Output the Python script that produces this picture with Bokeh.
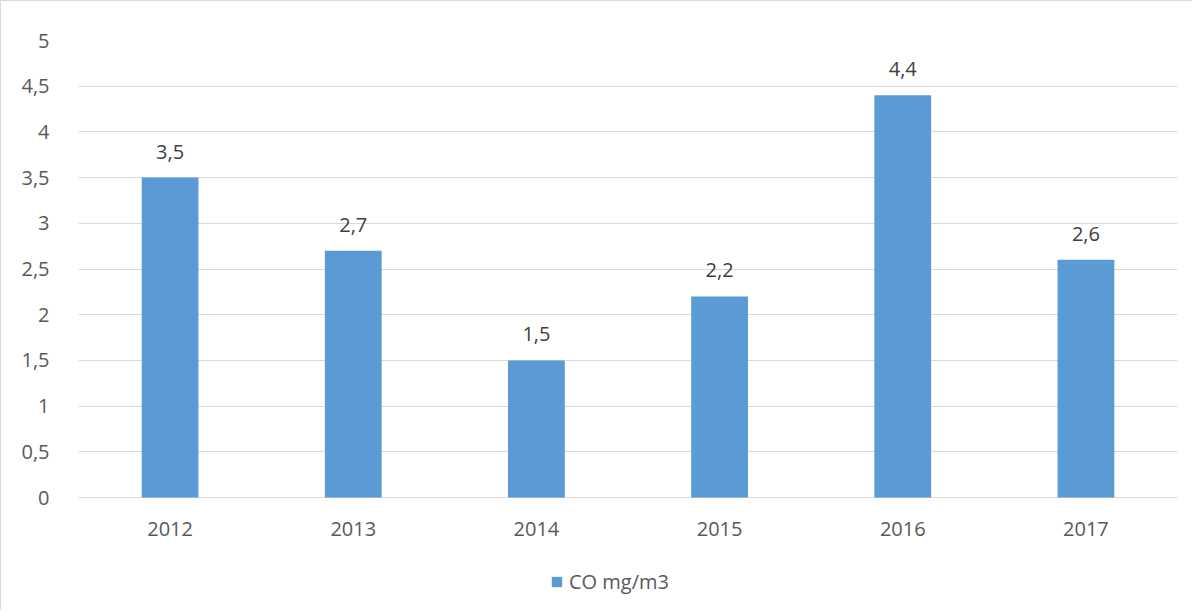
from bokeh.plotting import figure
from bokeh.models import ColumnDataSource, LabelSet, Legend, LegendItem, CustomJSTickFormatter, FixedTicker, Range1d
from bokeh.core.properties import value
from bokeh.embed import file_html
from bokeh.resources import INLINE

years = ["2012", "2013", "2014", "2015", "2016", "2017"]
co_values = [3.5, 2.7, 1.5, 2.2, 4.4, 2.6]
series_name = "CO mg/m3"
y_ticks = [0, 0.5, 1, 1.5, 2, 2.5, 3, 3.5, 4, 4.5, 5]

labels = [f"{v:.1f}".replace(".", ",") for v in co_values]
src = ColumnDataSource(data=dict(x=years, y=co_values, lab=labels, zero=[0] * len(years)))

FONT = "Open Sans"
W, H = 1192, 610
TOP, ZERO_PX = 39, 496  # frame top and zero line (px from figure top)
y_start = -5 * (H - ZERO_PX) / (ZERO_PX - TOP)

p = figure(x_range=years, y_range=Range1d(y_start, 5), width=W, height=H,
           output_backend="svg", toolbar_location=None,
           min_border_left=77, min_border_right=16, min_border_top=TOP, min_border_bottom=0)
p.styles = {"border-left": "1px solid #d9d9d9", "border-top": "1px solid #d9d9d9"}
p.outline_line_color = None
p.x_range.range_padding = 0

bars = p.vbar(x="x", top="y", width=0.31, source=src, fill_color="#5b9bd5", line_color=None)

p.xaxis.visible = False
p.yaxis.ticker = FixedTicker(ticks=y_ticks)
p.yaxis.formatter = CustomJSTickFormatter(code="return tick.toString().replace('.', ',');")
ax = p.yaxis[0]
ax.axis_line_color = None
ax.major_tick_line_color = None
ax.minor_tick_line_color = None
ax.major_label_text_font = FONT
ax.major_label_text_font_size = "20px"
ax.major_label_text_color = "#595959"
ax.major_label_standoff = 23

p.xgrid.grid_line_color = None
p.ygrid.grid_line_color = "#d9d9d9"
p.ygrid.grid_line_width = 1

xlbl = LabelSet(x="x", y="zero", text="x", source=src, text_align="center", text_baseline="middle",
                y_offset=-31, text_font=value(FONT), text_font_size="20px", text_color="#595959")
p.add_layout(xlbl)

lbl = LabelSet(x="x", y="y", text="lab", source=src, text_align="center", text_baseline="alphabetic",
               y_offset=19, text_font=value(FONT), text_font_size="20px", text_color="#404040")
p.add_layout(lbl)

legend = Legend(items=[LegendItem(label=series_name, renderers=[bars])], orientation="horizontal",
                location=(472, 16), border_line_color=None, background_fill_alpha=0,
                label_text_font=FONT, label_text_font_size="20px", label_text_color="#595959",
                glyph_width=13, glyph_height=13, label_standoff=6, label_height=27,
                padding=0, margin=0)
p.add_layout(legend)

open("out.html", "w").write(file_html(p, INLINE))
